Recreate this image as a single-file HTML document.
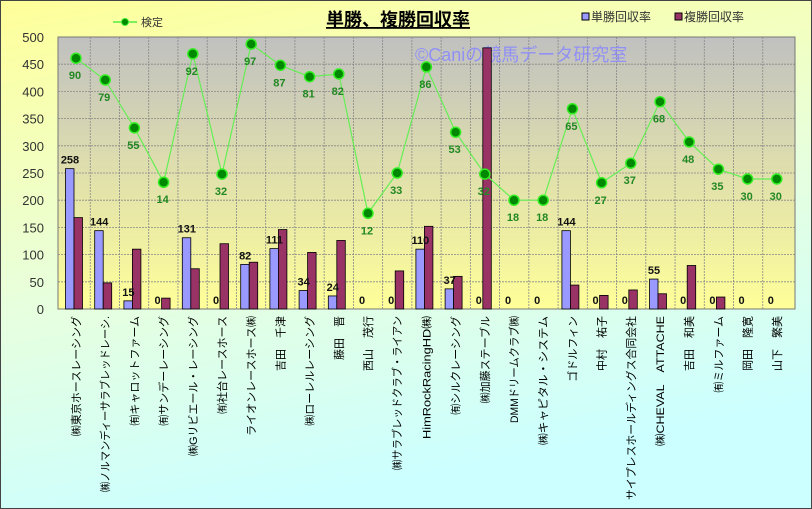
<!DOCTYPE html>
<html><head><meta charset="utf-8"><style>html,body{margin:0;padding:0;}svg{display:block;}</style></head>
<body>
<svg width="812" height="509" xmlns="http://www.w3.org/2000/svg" font-family="'Liberation Sans','Noto Sans CJK JP',sans-serif">
<defs>
<linearGradient id="bg" x1="0" y1="0" x2="0.3" y2="1"><stop offset="0" stop-color="#ffff99"/><stop offset="0.55" stop-color="#e8ffdd"/><stop offset="1" stop-color="#ccffff"/></linearGradient>
<linearGradient id="pa" x1="0" y1="0" x2="0" y2="1"><stop offset="0" stop-color="#c0c0c0"/><stop offset="1" stop-color="#ffff99"/></linearGradient>
</defs>
<rect x="0.5" y="0.5" width="811" height="508" fill="url(#bg)" stroke="#444"/>
<rect x="58" y="37" width="737" height="272" fill="url(#pa)" stroke="#777"/>
<g id="grid" stroke="#888" stroke-dasharray="2,1" stroke-width="0.8"></g>
<text x="415" y="61" font-size="18" fill="#8888ff" opacity="0.85">©Caniの競馬データ研究室</text>
<g id="bars"></g>
<g id="line"></g>
<g id="ylab" font-size="13" fill="#333" text-anchor="end"></g>
<g id="xlab" font-size="11" fill="#000"></g>
<text x="398" y="26" font-size="18" font-weight="bold" text-anchor="middle" text-decoration="underline">単勝、複勝回収率</text>
<line x1="113" y1="22" x2="137" y2="22" stroke="#55ee44" stroke-width="1.5"/><circle cx="125" cy="22" r="3.5" fill="#008800" stroke="#44ee33"/>
<text x="141" y="26" font-size="11" fill="#333">検定</text>
<rect x="582" y="13" width="7" height="7" fill="#9999ff" stroke="#000"/><text x="591" y="21" font-size="12" fill="#333">単勝回収率</text>
<rect x="675" y="13" width="7" height="7" fill="#993366" stroke="#000"/><text x="684" y="21" font-size="12" fill="#333">複勝回収率</text>
<script>
var ns="http://www.w3.org/2000/svg";
function el(p,t,a,txt){var e=document.createElementNS(ns,t);for(var k in a)e.setAttribute(k,a[k]);if(txt!==undefined)e.textContent=txt;document.getElementById(p).appendChild(e);return e;}
var Y=function(v){return 309-v*0.544;};
for(var v=50;v<500;v+=50)el("grid","line",{x1:58,x2:795,y1:Y(v),y2:Y(v)});
for(var k=1;k<25;k++){var x=61+29.24*k;el("grid","line",{x1:x,x2:x,y1:37,y2:309});}
for(var v=0;v<=500;v+=50)el("ylab","text",{x:44,y:Y(v)+5},v);
var names=["㈱東京ホースレーシング","㈱ノルマンディーサラブレッドレーシ.","㈲キャロットファーム","㈲サンデーレーシング","㈱Gリビエール・レーシング","㈲社台レースホース","ライオンレースホース㈱","吉田　千津","㈱ローレルレーシング","藤田　晋","西山　茂行","㈱サラブレッドクラブ・ライアン","HimRockRacingHD㈱","㈲シルクレーシング","㈱加藤ステーブル","DMMドリームクラブ㈱","㈱キャピタル・システム","ゴドルフィン","中村　祐子","サイプレスホールディングス合同会社","㈱CHEVAL　ATTACHE","吉田　和美","㈲ミルファーム","岡田　隆寛","山下　繁美"];
var lens={1:176,4:140,11:154,12:123,19:184,20:130,16:129,15:107};
var blue=[258,144,15,0,131,0,82,111,34,24,0,0,110,37,0,0,0,144,0,0,55,0,0,0,0];
var red=[168,48,110,20,74,120,86,146,104,126,0,70,152,60,480,0,0,44,25,35,28,80,22,0,0];
var lv=[461,421,333,233,469,248,487,448,427,432,176,250,445,325,248,200,200,368,232,268,381,307,257,239,239];
var ll=[90,79,55,14,92,32,97,87,81,82,12,33,86,53,32,18,18,65,27,37,68,48,35,30,30];
var pts=[];
for(var i=0;i<25;i++){
 var c=76+29.2*i;
 if(blue[i]>0)el("bars","rect",{x:c-10.5,y:Y(blue[i]),width:8.5,height:blue[i]*0.544,fill:"#9999ff",stroke:"#000","stroke-width":0.8});
 if(red[i]>0)el("bars","rect",{x:c-2,y:Y(red[i]),width:8.5,height:red[i]*0.544,fill:"#993366",stroke:"#000","stroke-width":0.8});
 el("bars","text",{x:c-6,y:Y(blue[i])-5,"font-size":11,"font-weight":"bold","text-anchor":"middle",fill:"#111"},blue[i]);
 pts.push(c+","+Y(lv[i]));
 var a={x:0,y:0,transform:"translate("+(c+4)+",316) rotate(-90)","text-anchor":"end"};
 if(lens[i]){a.textLength=lens[i];a.lengthAdjust="spacingAndGlyphs";}
 el("xlab","text",a,names[i]);
}
el("line","polyline",{points:pts.join(" "),fill:"none",stroke:"#66ee55","stroke-width":1.2});
for(var i=0;i<25;i++){var c=76+29.2*i;
 el("line","circle",{cx:c,cy:Y(lv[i]),r:5,fill:"#008800",stroke:"#33ee22","stroke-width":1.5});
 el("line","text",{x:c-1,y:Y(lv[i])+21,"font-size":11,"font-weight":"bold","text-anchor":"middle",fill:"#228822"},ll[i]);}
</script>
</svg>
</body></html>
